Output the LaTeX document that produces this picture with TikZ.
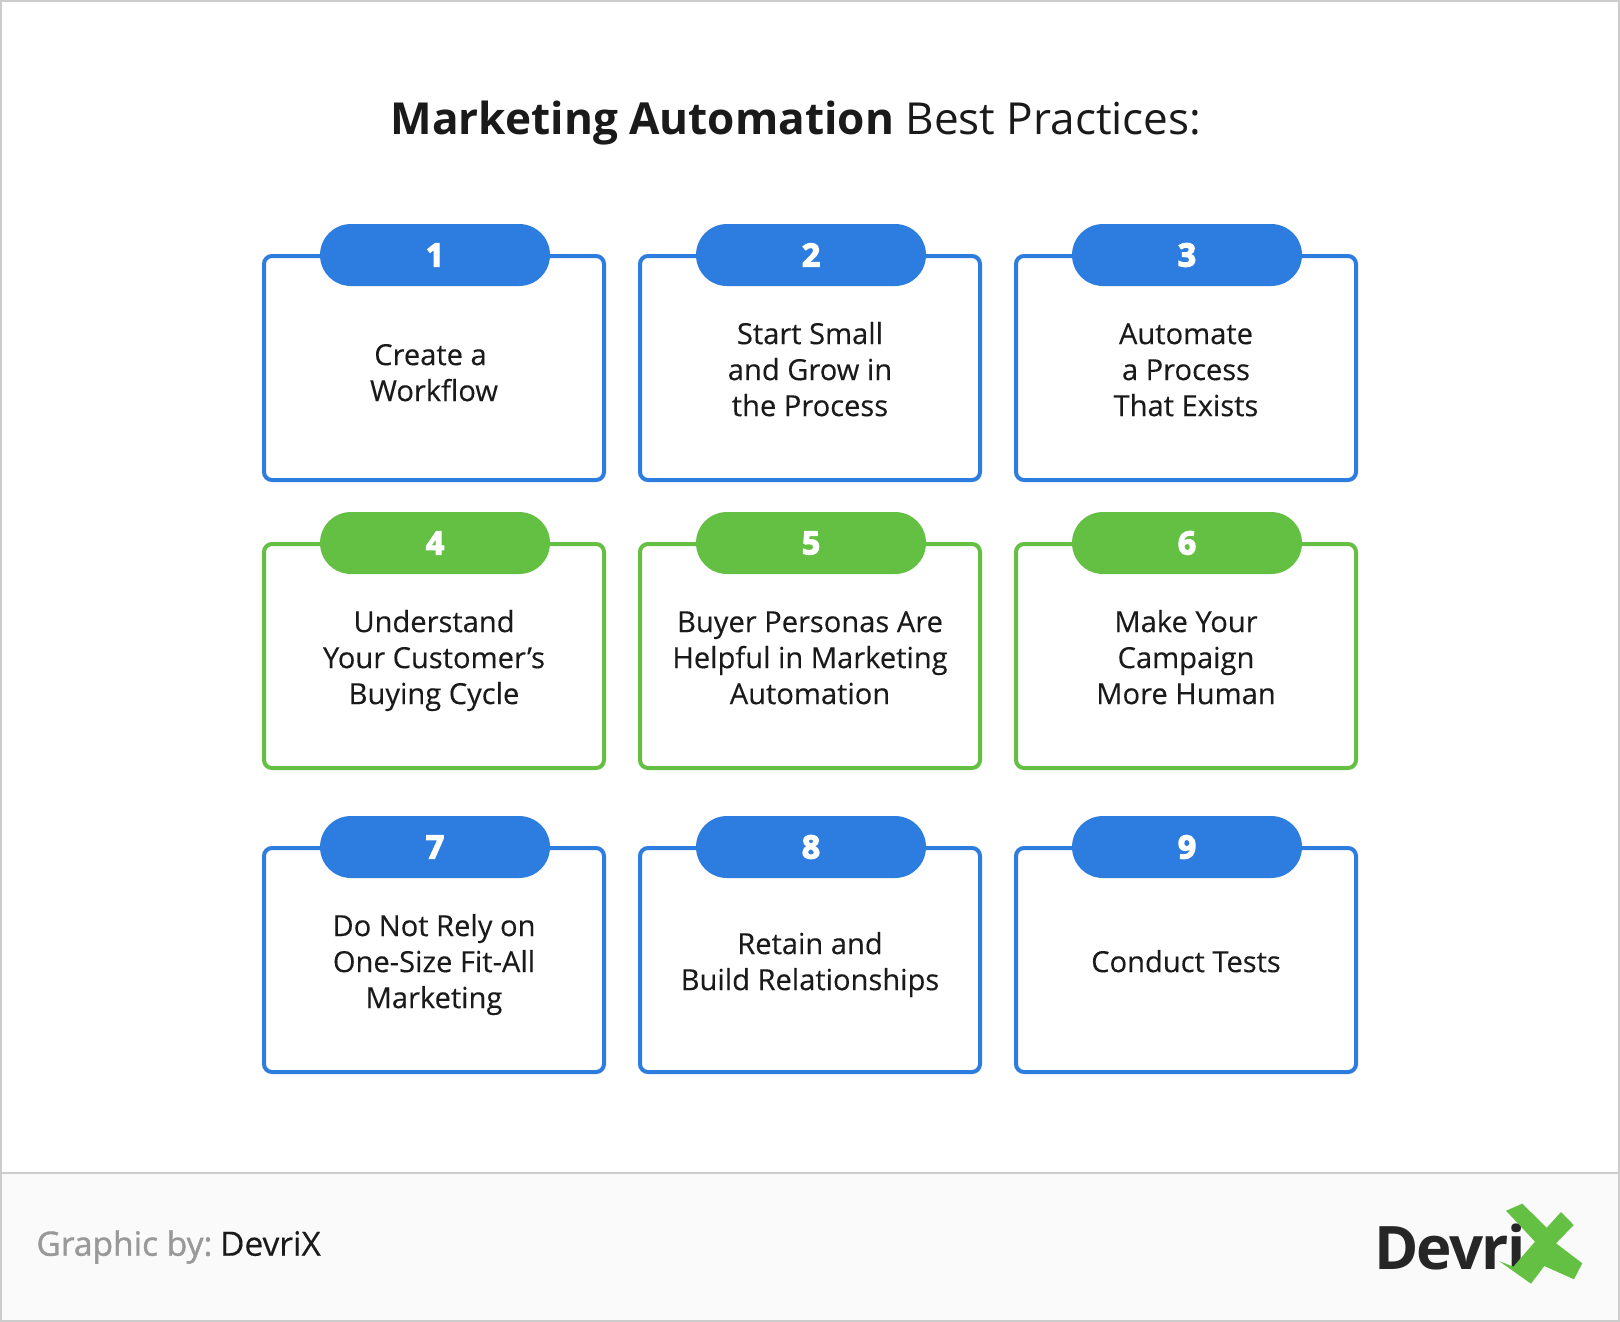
\documentclass[tikz,border=0pt]{standalone}
\usepackage{fontspec}
\setmainfont{Open Sans}
\newfontfamily\semifont[FakeBold=1.2]{Open Sans}
\newfontfamily\bodyfont[FakeBold=0.25]{Open Sans}
\newfontfamily\heavyfont[BoldFeatures={FakeBold=4}]{Open Sans}
\definecolor{blue}{HTML}{2D7DE1}
\definecolor{green}{HTML}{63C043}
\definecolor{ink}{HTML}{1A1A1A}
\usetikzlibrary{positioning}
\usetikzlibrary{shapes.misc}
\newcommand{\cardstrut}[1][35pt]{\rule{0pt}{#1}}
\tikzset{
  card/.style={
    draw=#1, line width=4pt, rounded corners=8pt, fill=white,
    minimum width=340pt, minimum height=224pt, outer sep=0,
    inner sep=0, align=center, text=ink,
    font=\bodyfont\fontsize{29.1}{36}\selectfont,
    execute at end node=\strut
  },
  numpill/.style={
    rounded rectangle, fill=#1, text=white, xshift=1pt, yshift=1pt,
    minimum width=230pt, minimum height=62pt, inner sep=0,
    font=\heavyfont\bfseries\fontsize{32}{36}\selectfont
  }
}

\begin{document}
\begin{tikzpicture}[x=1pt, y=-1pt, node distance=64pt and 36pt]
      \useasboundingbox (0,0) rectangle (1620,1322);
      % frame and footer
      \draw [fill=white, draw=black!20, line width=2pt] (1,1) rectangle (1619,1321);
      \draw [fill=black!2, draw=black!20, line width=2pt] (1,1173) rectangle (1619,1321);

      \node (title) at (796,123) [text=ink, font=\fontsize{44.1}{50}\selectfont]
            {\textbf{Marketing Automation} Best Practices:};

      \node [card=blue] (box1) at (434,368) {\cardstrut[41pt]Create a\kern7pt\\Workflow};
      \node [card=blue, right=of box1] (box2) {\cardstrut Start Small\\and Grow in\\the Process};
      \node [card=blue, right=of box2] (box3) {\cardstrut Automate\\a Process\\That Exists};

      \node [card=green, below=of box1] (box4) {\cardstrut Understand\\Your Customer’s\\Buying Cycle};
      \node [card=green, right=of box4] (box5) {\cardstrut Buyer Personas Are\\Helpful in Marketing\\Automation};
      \node [card=green, right=of box5] (box6) {\cardstrut Make Your\\Campaign\\More Human};

      \node [card=blue, below=80pt of box4] (box7) {\cardstrut Do Not Rely on\\One-Size Fit-All\\Marketing};
      \node [card=blue, right=of box7] (box8) {\cardstrut Retain and\\Build Relationships};
      \node [card=blue, right=of box8] (box9) {\cardstrut Conduct Tests};

      \node [numpill=blue] (num1) at (box1.north) {1};
      \node [numpill=blue] (num2) at (box2.north) {2};
      \node [numpill=blue] (num3) at (box3.north) {3};
      \node [numpill=green] (num4) at (box4.north) {4};
      \node [numpill=green] (num5) at (box5.north) {5};
      \node [numpill=green] (num6) at (box6.north) {6};
      \node [numpill=blue] (num7) at (box7.north) {7};
      \node [numpill=blue] (num8) at (box8.north) {8};
      \node [numpill=blue] (num9) at (box9.north) {9};

      \node (credit) at (33,1247) [anchor=west, font=\fontsize{33.5}{36}\selectfont]
            {\textcolor{black!40}{\semifont Graphic by:}\hspace{-4pt} \textcolor{ink}{\bodyfont DevriX}};

      \node (logo) at (1374,1247) [anchor=west, inner sep=0, text=black!85,
             font=\bfseries\addfontfeature{LetterSpace=-3}\fontsize{60}{66}\selectfont] {Devri};
      \fill [green] (1506,1210.7) -- (1522.3,1203.7) -- (1546.7,1227.7) -- (1561,1212)
            -- (1573.7,1225) -- (1556,1243.3) -- (1582.3,1263.3) -- (1574,1279.3)
            -- (1544.3,1266) -- (1531,1283.7) -- (1499,1261) -- (1513.3,1266.7)
            -- (1535,1241.7) -- cycle;
    \end{tikzpicture}
\end{document}
